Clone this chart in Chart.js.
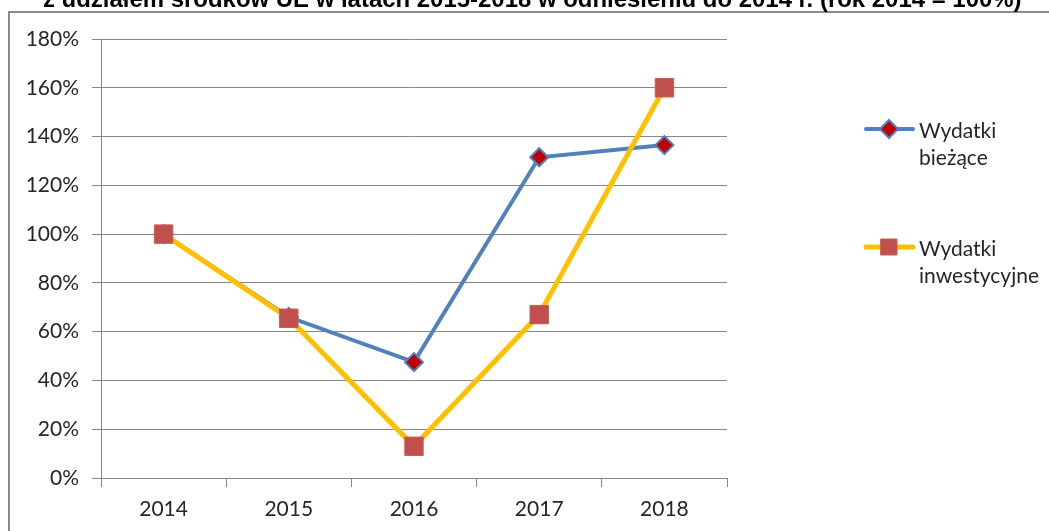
<!DOCTYPE html>
<html>
<head>
<meta charset="utf-8">
<script src="https://cdn.jsdelivr.net/npm/chart.js@4/dist/chart.umd.min.js"></script>
<style>
  body { margin: 0; background: #fff; }
  canvas { display: block; }
</style>
</head>
<body>
<canvas id="chart" width="1049" height="531"></canvas>
<script>
const years = ['2014', '2015', '2016', '2017', '2018'];
const biezace = [100, 66, 47.5, 131.5, 136.5];
const inwestycyjne = [100, 65.5, 13, 67, 160];
const seriesNames = [['Wydatki', 'bieżące'], ['Wydatki', 'inwestycyjne']];
const yTicks = [0, 20, 40, 60, 80, 100, 120, 140, 160, 180];
const titleText = 'z udziałem środków UE w latach 2015-2018 w odniesieniu do 2014 r. (rok 2014 = 100%)';

const tickFont = { family: 'Lato', size: 21 };
const textColor = '#262626';
const gridColor = '#878787';

// title cut at the top and the frame around the chart
const framePlugin = {
  id: 'frame',
  beforeDraw(chart) {
    const ctx = chart.ctx;
    ctx.save();
    ctx.fillStyle = '#fff';
    ctx.fillRect(0, 0, chart.width, chart.height);
    ctx.strokeStyle = '#8c8c8c';
    ctx.lineWidth = 2;
    ctx.beginPath();
    ctx.moveTo(1049, 12);
    ctx.lineTo(9, 12);
    ctx.lineTo(9, 531);
    ctx.stroke();

    let size = 22;
    ctx.font = 'bold ' + size + 'px "Liberation Sans"';
    size = size * 979 / ctx.measureText(titleText).width;
    ctx.font = 'bold ' + size + 'px "Liberation Sans"';
    ctx.fillStyle = '#000';
    ctx.textBaseline = 'alphabetic';
    ctx.fillText(titleText, 43, 7);
    ctx.restore();
  }
};

// two-line legend entries on the right
const legendPlugin = {
  id: 'sideLegend',
  afterDraw(chart) {
    const ctx = chart.ctx;
    const rows = [129, 247];
    ctx.save();
    chart.data.datasets.forEach((ds, i) => {
      const y = rows[i];
      ctx.strokeStyle = ds.borderColor;
      ctx.lineWidth = ds.borderWidth;
      ctx.lineCap = 'round';
      ctx.beginPath();
      ctx.moveTo(866, y);
      ctx.lineTo(913, y);
      ctx.stroke();

      ctx.fillStyle = ds.pointBackgroundColor;
      ctx.strokeStyle = ds.pointBorderColor;
      ctx.lineWidth = ds.pointBorderWidth;
      ctx.beginPath();
      if (ds.pointStyle === 'rectRot') {
        const r = 9;
        ctx.moveTo(889, y - r);
        ctx.lineTo(889 + r, y);
        ctx.lineTo(889, y + r);
        ctx.lineTo(889 - r, y);
        ctx.closePath();
      } else {
        ctx.rect(889 - 8, y - 8, 16, 16);
      }
      ctx.fill();
      ctx.stroke();

      ctx.fillStyle = textColor;
      ctx.font = '21px Lato';
      ctx.textBaseline = 'middle';
      ctx.textAlign = 'left';
      seriesNames[i].forEach((line, j) => {
        ctx.fillText(line, 919, y + 2 + j * 27);
      });
    });
    ctx.restore();
  }
};

new Chart(document.getElementById('chart'), {
  type: 'line',
  data: {
    labels: years,
    datasets: [
      {
        label: seriesNames[0].join(' '),
        data: biezace,
        borderColor: '#4F81BD',
        borderWidth: 4,
        pointStyle: 'rectRot',
        pointRadius: 9,
        pointBackgroundColor: '#C00000',
        pointBorderColor: '#4F81BD',
        pointBorderWidth: 2,
        tension: 0,
        order: 1
      },
      {
        label: seriesNames[1].join(' '),
        data: inwestycyjne,
        borderColor: '#FFC000',
        borderWidth: 5,
        pointStyle: 'rect',
        pointRadius: 13,
        pointBackgroundColor: '#C0504D',
        pointBorderColor: '#C85A57',
        pointBorderWidth: 1,
        tension: 0,
        order: 0
      }
    ]
  },
  options: {
    responsive: false,
    devicePixelRatio: 1,
    animation: false,
    layout: { padding: { top: 39, right: 322, bottom: 0, left: 0 } },
    plugins: {
      legend: { display: false },
      tooltip: { enabled: false }
    },
    scales: {
      x: {
        offset: true,
        grid: {
          offset: true,
          drawOnChartArea: false,
          drawTicks: true,
          tickLength: 9,
          color: gridColor
        },
        border: { display: true, color: gridColor },
        ticks: { font: tickFont, color: textColor, padding: 10, maxRotation: 0 },
        afterFit(scale) { scale.height = 53; }
      },
      y: {
        min: 0,
        max: 180,
        afterBuildTicks(scale) {
          scale.ticks = yTicks.map(v => ({ value: v }));
        },
        grid: {
          color: gridColor,
          drawTicks: true,
          tickLength: 9
        },
        border: { display: true, color: gridColor },
        ticks: {
          font: tickFont,
          color: textColor,
          padding: 13,
          callback: v => v + '%'
        },
        afterFit(scale) { scale.width = 101; }
      }
    }
  },
  plugins: [framePlugin, legendPlugin]
});
</script>
</body>
</html>
